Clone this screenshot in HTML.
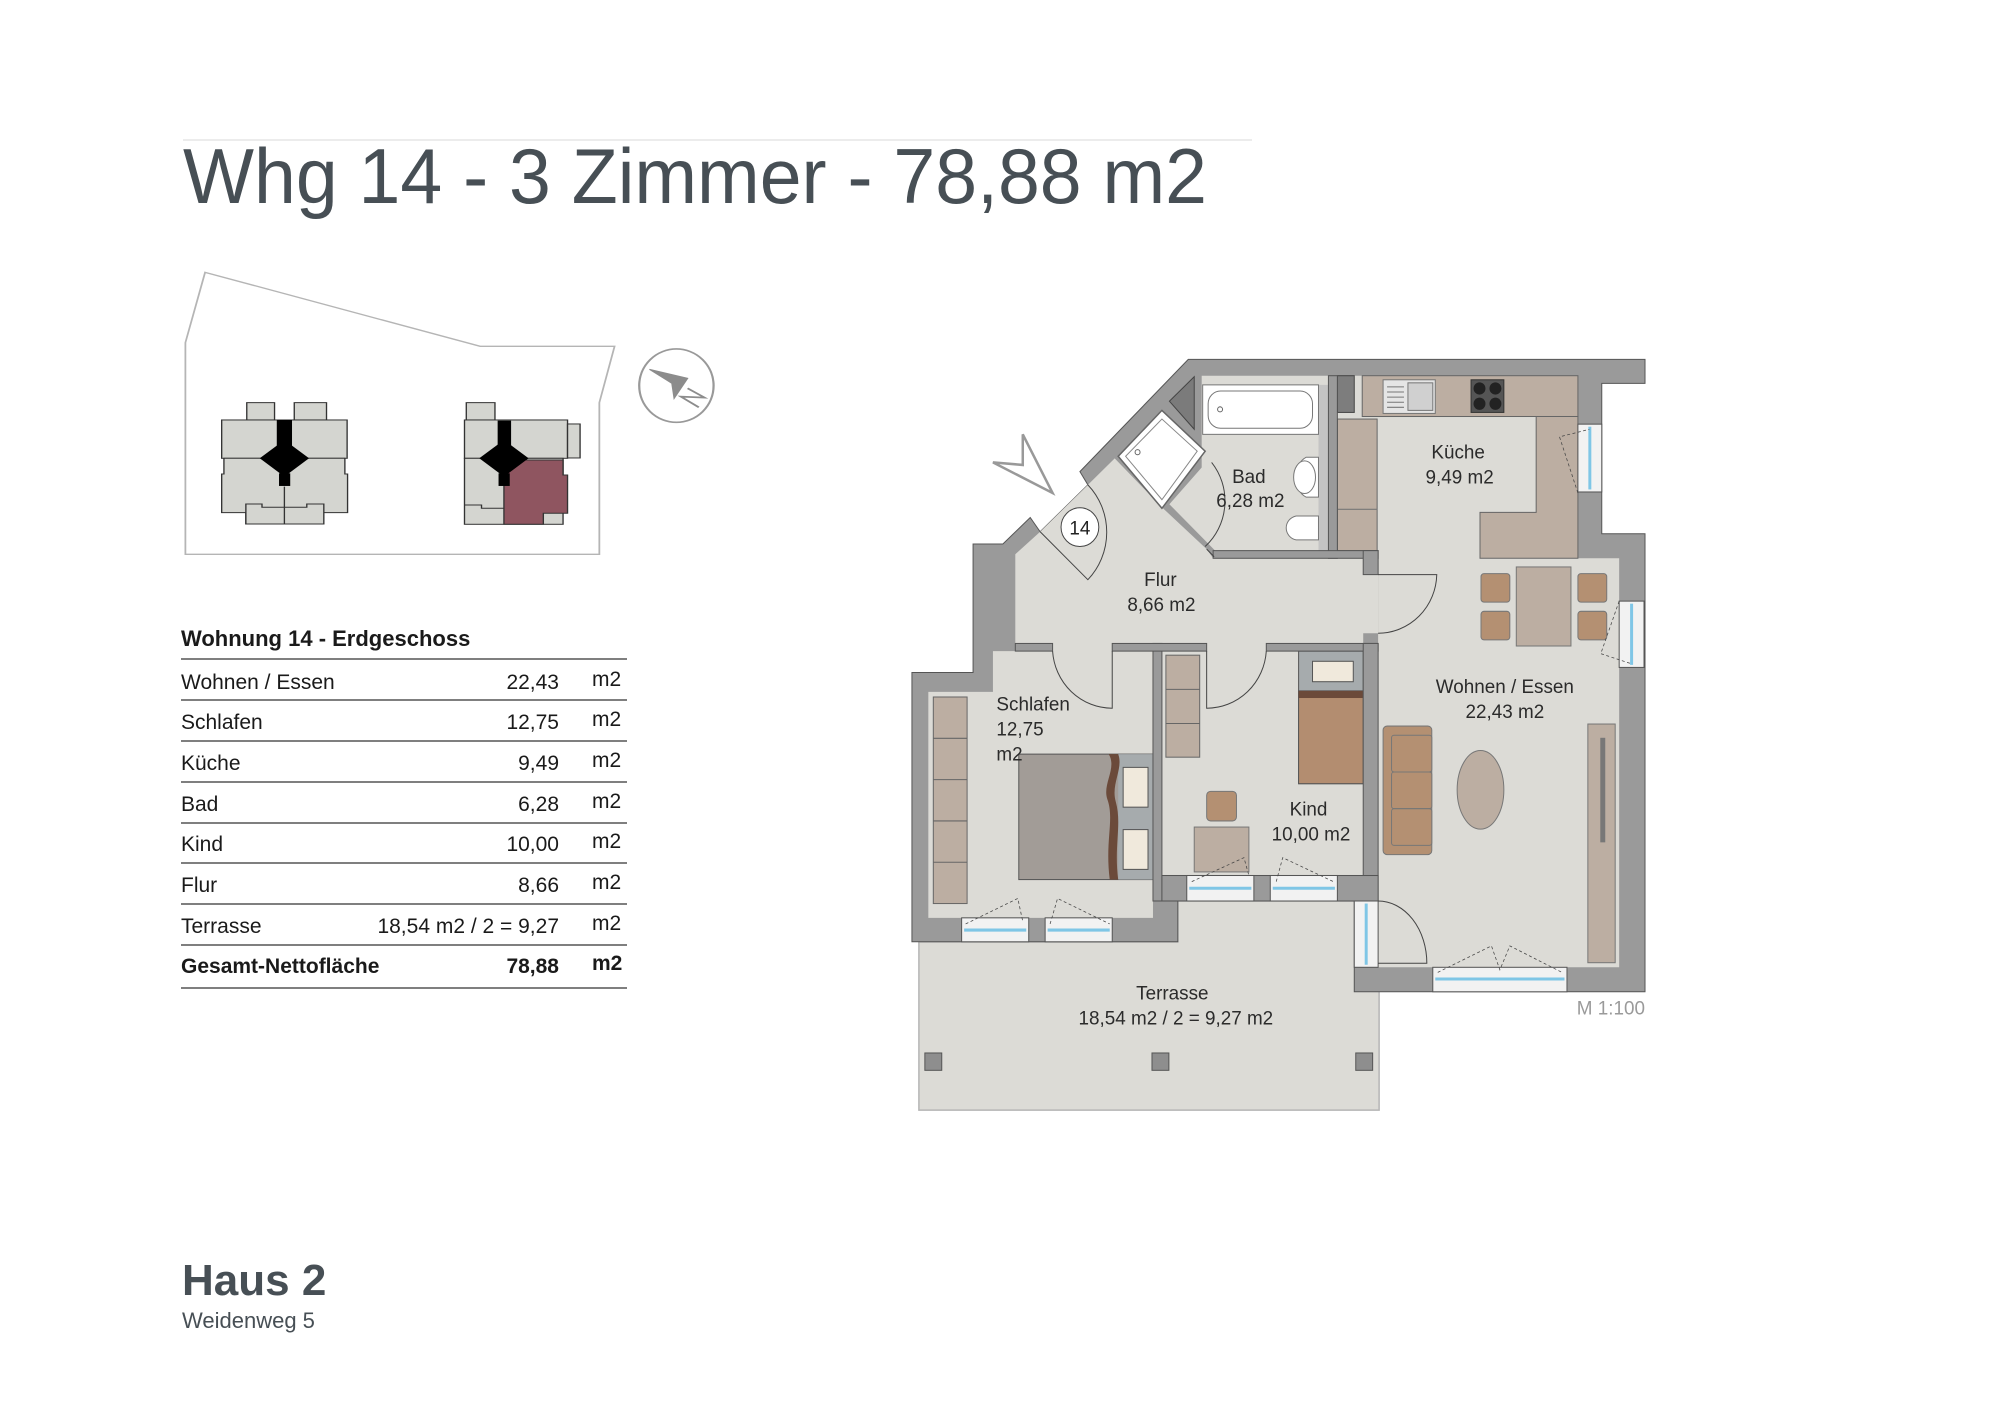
<!DOCTYPE html>
<html><head><meta charset="utf-8"><style>
html,body{margin:0;padding:0;background:#fff;}
svg{display:block;}
text{font-family:"Liberation Sans",sans-serif;}
</style></head><body>
<svg width="1999" height="1417" viewBox="0 0 1999 1417" xmlns="http://www.w3.org/2000/svg">
<rect width="1999" height="1417" fill="#fff"/>
<line x1="183" y1="140" x2="1252" y2="140" stroke="#e6e6e6" stroke-width="1.5"/>
<text x="183" y="203" font-size="78" fill="#474f55" textLength="1024" lengthAdjust="spacingAndGlyphs">Whg 14 - 3 Zimmer - 78,88 m2</text>

<g transform="translate(150,120) scale(0.448,0.3333)">
<polygon points="123,457 737,679 1037,679 1003,848 1003,1303 79,1303 79,668" fill="none" stroke="#b5b5b5" stroke-width="4"/>
<g fill="#d4d5d0" stroke="#333" stroke-width="3">
<rect x="216" y="848" width="62" height="52"/><rect x="322" y="848" width="72" height="52"/>
<rect x="160" y="900" width="280" height="115"/>
<polygon points="165,1015 435,1015 435,1062 441,1062 441,1178 388,1178 388,1212 214,1212 214,1178 160,1178 160,1062 165,1062"/>
<polygon points="214,1152 250,1152 250,1162 350,1162 350,1152 388,1152 388,1212 214,1212"/>
<line x1="300" y1="1100" x2="300" y2="1212"/>
<rect x="706" y="848" width="64" height="52"/>
<rect x="702" y="900" width="230" height="115"/>
<rect x="932" y="912" width="28" height="102"/>
<rect x="702" y="1015" width="220" height="198"/>
</g>
<polygon points="790,1020 922,1020 922,1065 932,1065 932,1180 878,1180 878,1213 790,1213" fill="#8f5560" stroke="#333" stroke-width="3"/>
<polyline points="702,1155 740,1155 740,1165 790,1165" fill="none" stroke="#333" stroke-width="3"/>
<g fill="#000">
<rect x="283" y="900" width="34" height="80"/><polygon points="245,1015 300,960 355,1015 300,1070"/><rect x="288" y="1060" width="25" height="38"/>
<rect x="776" y="902" width="30" height="80"/><polygon points="735,1015 790,960 845,1015 790,1070"/><rect x="778" y="1060" width="25" height="38"/>
</g>
<ellipse cx="1175" cy="797" rx="83" ry="110" fill="none" stroke="#999" stroke-width="5"/>
<polygon points="1115,748 1200,775 1170,835 1165,790" fill="#8c8c8c" stroke="#8c8c8c" stroke-width="3"/>
<polyline points="1200,805 1238,833 1185,830 1225,862" fill="none" stroke="#8c8c8c" stroke-width="5"/>
</g>

<g font-size="21" fill="#1a1a1a">
<text x="181" y="646" font-weight="bold" font-size="22">Wohnung 14 - Erdgeschoss</text>
<g stroke="#555" stroke-width="1.5">
<line x1="181" y1="659" x2="627" y2="659"/><line x1="181" y1="700" x2="627" y2="700"/><line x1="181" y1="741" x2="627" y2="741"/><line x1="181" y1="782" x2="627" y2="782"/><line x1="181" y1="823" x2="627" y2="823"/><line x1="181" y1="863" x2="627" y2="863"/><line x1="181" y1="904" x2="627" y2="904"/><line x1="181" y1="945" x2="627" y2="945"/><line x1="181" y1="988" x2="627" y2="988"/>
</g>
<text x="181" y="689">Wohnen / Essen</text><text x="559" y="689" text-anchor="end">22,43</text><text x="592" y="686">m2</text>
<text x="181" y="729">Schlafen</text><text x="559" y="729" text-anchor="end">12,75</text><text x="592" y="726">m2</text>
<text x="181" y="770">Küche</text><text x="559" y="770" text-anchor="end">9,49</text><text x="592" y="767">m2</text>
<text x="181" y="811">Bad</text><text x="559" y="811" text-anchor="end">6,28</text><text x="592" y="808">m2</text>
<text x="181" y="851">Kind</text><text x="559" y="851" text-anchor="end">10,00</text><text x="592" y="848">m2</text>
<text x="181" y="892">Flur</text><text x="559" y="892" text-anchor="end">8,66</text><text x="592" y="889">m2</text>
<text x="181" y="933">Terrasse</text><text x="559" y="933" text-anchor="end">18,54 m2 / 2 = 9,27</text><text x="592" y="930">m2</text>
<text x="181" y="973" font-weight="bold">Gesamt-Nettofläche</text><text x="559" y="973" text-anchor="end" font-weight="bold">78,88</text><text x="592" y="970" font-weight="bold">m2</text>
</g>

<text x="182" y="1295" font-size="44" font-weight="bold" fill="#474f55">Haus 2</text>
<text x="182" y="1328" font-size="22" fill="#474f55">Weidenweg 5</text>

<g transform="translate(901,340) scale(0.497,0.51)">
<polygon points="36,1180 557,1180 557,1100 962,1100 962,1510 36,1510" fill="#dcdbd6" stroke="#b5b5b5" stroke-width="3"/>
<rect x="48" y="1398" width="34" height="34" fill="#8e8e8e" stroke="#555" stroke-width="2"/>
<rect x="505" y="1398" width="34" height="34" fill="#8e8e8e" stroke="#555" stroke-width="2"/>
<rect x="915" y="1398" width="34" height="34" fill="#8e8e8e" stroke="#555" stroke-width="2"/>
<polygon points="578,38 1497,38 1497,85 1410,85 1410,380 1497,380 1497,1278 912,1278 912,1100 557,1100 557,1180 22,1180 22,652 145,652 145,400 205,400 260,348 280,376 376,284 360,258" fill="#9a9a9a" stroke="#555" stroke-width="2"/>
<g fill="#dcdbd6">
<polygon points="230,420 280,376 376,284 430,232 525,328 615,410 628,428 930,428 930,460 960,460 960,575 930,575 930,595 230,595"/>
<polygon points="605,70 860,70 860,413 632,413 540,322 605,250"/>
<polygon points="878,70 1362,70 1362,428 1445,428 1445,1230 960,1230 960,428 878,413"/>
<polygon points="185,610 507,610 507,1133 55,1133 55,690 185,690"/>
<rect x="525" y="610" width="405" height="440"/>
<rect x="305" y="590" width="120" height="25"/>
<rect x="615" y="590" width="120" height="25"/>
</g>
<rect x="840" y="88" width="20" height="325" fill="#c4c4c4"/>
<polygon points="540,120 590,72 590,175" fill="#7b7b7b" stroke="#444" stroke-width="2"/>
<polygon points="437,228 525,138 612,218 525,330" fill="#fff" stroke="#666" stroke-width="3"/>
<polygon points="452,228 525,155 596,218 525,313" fill="none" stroke="#888" stroke-width="2"/>
<circle cx="476" cy="220" r="5" fill="none" stroke="#666" stroke-width="2"/>
<rect x="607" y="88" width="233" height="97" fill="#fff" stroke="#777" stroke-width="2"/>
<rect x="618" y="100" width="210" height="73" rx="25" fill="#fff" stroke="#777" stroke-width="2"/>
<circle cx="642" cy="136" r="5" fill="none" stroke="#666" stroke-width="2"/>
<path d="M840,230 L815,230 A33,42 0 0 0 815,308 L840,308 Z" fill="#fff" stroke="#777" stroke-width="2"/>
<ellipse cx="812" cy="269" rx="22" ry="32" fill="#fff" stroke="#777" stroke-width="2"/>
<path d="M840,345 L795,345 A25,24 0 0 0 795,392 L840,392 Z" fill="#fff" stroke="#777" stroke-width="2"/>
<g fill="#bcaea2" stroke="#666" stroke-width="2">
<rect x="928" y="70" width="434" height="80"/>
<rect x="878" y="155" width="80" height="258"/>
<polygon points="1278,150 1362,150 1362,428 1165,428 1165,338 1278,338"/>
</g>
<line x1="878" y1="332" x2="958" y2="332" stroke="#777" stroke-width="2"/>
<rect x="878" y="70" width="34" height="72" fill="#7d7d7d" stroke="#444" stroke-width="2"/>
<rect x="970" y="78" width="105" height="66" fill="#e5e5e5" stroke="#777" stroke-width="2"/>
<rect x="1020" y="84" width="50" height="54" fill="#d0d0d0" stroke="#777" stroke-width="2"/>
<g stroke="#777" stroke-width="2"><line x1="978" y1="92" x2="1012" y2="92"/><line x1="978" y1="102" x2="1012" y2="102"/><line x1="978" y1="112" x2="1012" y2="112"/><line x1="978" y1="122" x2="1012" y2="122"/><line x1="978" y1="132" x2="1012" y2="132"/></g>
<rect x="1147" y="78" width="66" height="64" fill="#555" stroke="#333" stroke-width="2"/>
<g fill="#222"><circle cx="1164" cy="95" r="12"/><circle cx="1196" cy="95" r="12"/><circle cx="1164" cy="125" r="12"/><circle cx="1196" cy="125" r="12"/></g>
<rect x="1238" y="445" width="110" height="155" fill="#bcaea2" stroke="#777" stroke-width="2"/>
<g fill="#b49072" stroke="#777" stroke-width="2">
<rect x="1167" y="458" width="58" height="56" rx="6"/><rect x="1167" y="532" width="58" height="56" rx="6"/>
<rect x="1362" y="458" width="58" height="56" rx="6"/><rect x="1362" y="532" width="58" height="56" rx="6"/>
<rect x="970" y="757" width="98" height="252" rx="8"/>
<rect x="987" y="775" width="81" height="72" rx="5"/><rect x="987" y="847" width="81" height="72" rx="5"/><rect x="987" y="919" width="81" height="72" rx="5"/>
<rect x="615" y="885" width="60" height="58" rx="8"/>
</g>
<ellipse cx="1166" cy="882" rx="47" ry="77" fill="#bcaea2" stroke="#777" stroke-width="2"/>
<rect x="1382" y="753" width="55" height="468" fill="#bcaea2" stroke="#777" stroke-width="2"/>
<rect x="1407" y="780" width="10" height="205" fill="#777"/>
<rect x="65" y="700" width="68" height="405" fill="#bcaea2" stroke="#666" stroke-width="2"/>
<g stroke="#666" stroke-width="2"><line x1="65" y1="781" x2="133" y2="781"/><line x1="65" y1="862" x2="133" y2="862"/><line x1="65" y1="943" x2="133" y2="943"/><line x1="65" y1="1024" x2="133" y2="1024"/></g>
<rect x="237" y="812" width="270" height="246" fill="#a29c97" stroke="#555" stroke-width="2"/>
<rect x="437" y="812" width="70" height="246" fill="#a6abad"/>
<path d="M418,812 C435,840 405,870 415,900 C430,940 410,980 420,1058 L437,1058 C428,990 445,950 432,905 C422,870 448,840 437,812 Z" fill="#6b4a3a"/>
<rect x="447" y="838" width="50" height="78" fill="#f0e9dc" stroke="#555" stroke-width="2"/>
<rect x="447" y="960" width="50" height="78" fill="#f0e9dc" stroke="#555" stroke-width="2"/>
<rect x="533" y="618" width="68" height="200" fill="#bcaea2" stroke="#666" stroke-width="2"/>
<g stroke="#666" stroke-width="2"><line x1="533" y1="685" x2="601" y2="685"/><line x1="533" y1="752" x2="601" y2="752"/></g>
<rect x="800" y="610" width="130" height="260" fill="#a6abad" stroke="#555" stroke-width="2"/>
<rect x="800" y="688" width="130" height="182" fill="#b38d70" stroke="#555" stroke-width="2"/>
<rect x="800" y="688" width="130" height="14" fill="#6b4a3a"/>
<rect x="828" y="630" width="82" height="40" fill="#f0e9dc" stroke="#555" stroke-width="2"/>
<rect x="590" y="955" width="110" height="88" fill="#bcaea2" stroke="#777" stroke-width="2"/>
<g fill="#9a9a9a" stroke="#555" stroke-width="2">
<rect x="507" y="595" width="18" height="505"/>
<rect x="230" y="595" width="75" height="15"/>
<rect x="425" y="595" width="190" height="15"/>
<rect x="735" y="595" width="225" height="15"/>
<rect x="930" y="595" width="30" height="505"/>
<rect x="860" y="70" width="18" height="358"/>
<rect x="628" y="413" width="332" height="15"/>
<rect x="930" y="413" width="30" height="47"/>
<rect x="525" y="1050" width="435" height="50"/>
</g>
<g fill="#f2f2f2" stroke="#555" stroke-width="2">
<rect x="1362" y="165" width="48" height="133"/>
<rect x="1445" y="512" width="50" height="130"/>
<rect x="122" y="1133" width="135" height="47"/>
<rect x="290" y="1133" width="135" height="47"/>
<rect x="575" y="1050" width="135" height="50"/>
<rect x="743" y="1050" width="135" height="50"/>
<rect x="1070" y="1230" width="270" height="48"/>
<rect x="912" y="1100" width="48" height="130"/>
</g>
<g stroke="#7fc6e6" stroke-width="6">
<line x1="1386" y1="170" x2="1386" y2="293"/><line x1="1470" y1="517" x2="1470" y2="637"/>
<line x1="127" y1="1157" x2="252" y2="1157"/><line x1="295" y1="1157" x2="420" y2="1157"/>
<line x1="580" y1="1075" x2="705" y2="1075"/><line x1="748" y1="1075" x2="873" y2="1075"/>
<line x1="1075" y1="1253" x2="1335" y2="1253"/><line x1="936" y1="1105" x2="936" y2="1225"/>
</g>
<g fill="none" stroke="#444" stroke-width="2">
<path d="M280,376 L376,470 A133,133 0 0 0 376,284"/>
<path d="M305,610 A120,120 0 0 0 425,722 L425,610"/>
<path d="M735,610 A120,120 0 0 1 615,722 L615,610"/>
<path d="M960,575 A118,118 0 0 0 1078,460 L960,460"/>
<path d="M615,410 L630,425 M612,405 A120,120 0 0 0 625,240"/>
<path d="M960,1100 A98,122 0 0 1 1058,1222 L960,1222"/>
</g>
<g fill="none" stroke="#444" stroke-width="1.5" stroke-dasharray="6,5">
<polyline points="1362,300 1325,190 1385,175"/><polyline points="1445,512 1408,615 1470,635"/>
<polyline points="130,1145 235,1095 245,1140"/><polyline points="300,1145 315,1095 420,1145"/>
<polyline points="585,1062 690,1015 700,1050"/><polyline points="755,1062 768,1015 870,1062"/>
<polyline points="1080,1240 1188,1188 1205,1235 1225,1188 1330,1240"/>
</g>
<polygon points="185,240 245,245 245,185 305,300" fill="none" stroke="#999" stroke-width="5"/>
<circle cx="360" cy="367" r="38" fill="#fff" stroke="#444" stroke-width="2"/>
<text x="360" y="381" font-size="38" text-anchor="middle" fill="#222">14</text>
<g font-size="38" fill="#2b2b2b" text-anchor="middle">
<text x="700" y="280">Bad</text><text x="703" y="327">6,28 m2</text>
<text x="1121" y="232">Küche</text><text x="1124" y="281">9,49 m2</text>
<text x="522" y="482">Flur</text><text x="524" y="531">8,66 m2</text>
<text x="1215" y="692">Wohnen / Essen</text><text x="1215" y="741">22,43 m2</text>
<text x="820" y="932">Kind</text><text x="825" y="981">10,00 m2</text>
<text x="546" y="1293">Terrasse</text><text x="553" y="1342">18,54 m2 / 2 = 9,27 m2</text>
</g>
<g font-size="38" fill="#2b2b2b"><text x="192" y="726">Schlafen</text><text x="192" y="776">12,75</text><text x="192" y="825">m2</text></g>
<text x="1497" y="1323" font-size="38" fill="#9a9a9a" text-anchor="end">M 1:100</text>
</g>
</svg>
</body></html>
